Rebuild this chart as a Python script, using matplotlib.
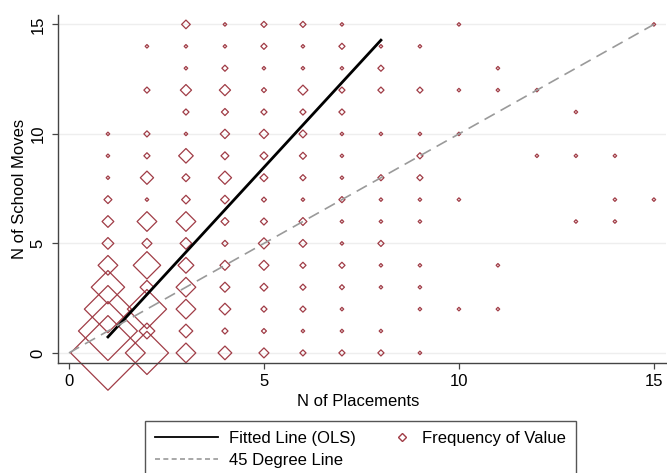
import matplotlib
matplotlib.use("Agg")
import matplotlib.pyplot as plt
from matplotlib.lines import Line2D
from matplotlib.legend_handler import HandlerBase

plt.rcParams["font.family"] = ["Liberation Sans", "DejaVu Sans"]

# (placements, school moves, frequency)
placements = [
    1, 1, 1, 1, 1, 1, 1, 1, 1, 1, 1,
    2, 2, 2, 2, 2, 2, 2, 2, 2, 2, 2, 2, 2,
    3, 3, 3, 3, 3, 3, 3, 3, 3, 3, 3, 3, 3, 3, 3, 3,
    4, 4, 4, 4, 4, 4, 4, 4, 4, 4, 4, 4, 4, 4, 4, 4,
    5, 5, 5, 5, 5, 5, 5, 5, 5, 5, 5, 5, 5, 5, 5, 5,
    6, 6, 6, 6, 6, 6, 6, 6, 6, 6, 6, 6, 6, 6, 6, 6,
    7, 7, 7, 7, 7, 7, 7, 7, 7, 7, 7, 7, 7, 7, 7, 7,
    8, 8, 8, 8, 8, 8, 8, 8, 8, 8, 8, 8,
    9, 9, 9, 9, 9, 9, 9, 9, 9, 9, 9,
    10, 10, 10, 10, 10,
    11, 11, 11, 11,
    12, 12,
    13, 13, 13,
    14, 14, 14,
    15, 15,
]
moves = [
    0, 1, 2, 3, 4, 5, 6, 7, 8, 9, 10,
    0, 1, 2, 3, 4, 5, 6, 7, 8, 9, 10, 12, 14,
    0, 1, 2, 3, 4, 5, 6, 7, 8, 9, 10, 11, 12, 13, 14, 15,
    0, 1, 2, 3, 4, 5, 6, 7, 8, 9, 10, 11, 12, 13, 14, 15,
    0, 1, 2, 3, 4, 5, 6, 7, 8, 9, 10, 11, 12, 13, 14, 15,
    0, 1, 2, 3, 4, 5, 6, 7, 8, 9, 10, 11, 12, 13, 14, 15,
    0, 1, 2, 3, 4, 5, 6, 7, 8, 9, 10, 11, 12, 13, 14, 15,
    0, 1, 3, 4, 5, 6, 7, 8, 10, 12, 13, 14,
    0, 2, 3, 4, 6, 7, 8, 9, 10, 12, 14,
    2, 7, 10, 12, 15,
    2, 4, 12, 13,
    9, 12,
    6, 9, 11,
    6, 7, 9,
    7, 15,
]
freq = [
    446, 278, 178, 89, 31, 11, 11, 5, 1, 1, 1,
    149, 20, 123, 15, 60, 8, 31, 1, 14, 3, 3, 3, 1,
    31, 15, 31, 31, 20, 11, 31, 6, 5, 17, 1, 3, 10, 1, 1, 6,
    15, 3, 11, 8, 8, 3, 5, 6, 14, 5, 7, 4, 10, 3, 1, 1,
    8, 2, 3, 5, 8, 10, 4, 2, 5, 5, 7, 3, 2, 1, 3, 3,
    3, 1, 3, 3, 3, 5, 5, 1, 3, 4, 5, 3, 8, 1, 1, 3,
    3, 1, 1, 2, 3, 1, 1, 3, 1, 1, 1, 3, 3, 1, 3, 1,
    3, 1, 1, 1, 3, 1, 1, 3, 1, 3, 3, 1,
    1, 1, 1, 1, 1, 1, 3, 3, 1, 3, 1,
    1, 1, 1, 1, 1,
    1, 1, 1, 1,
    1, 1,
    1, 1, 1,
    1, 1, 1,
    1, 1,
]

# fitted OLS line end points and 45 degree reference
fit_x = [1, 8]
fit_y = [0.73, 14.28]
diag = [0, 15]

ticks = [0, 5, 10, 15]
marker_color = "#a03c46"


class RightMarker(HandlerBase):
    # diamond sits just before the label, like the Stata legend
    def create_artists(self, legend, orig_handle, xdescent, ydescent,
                       width, height, fontsize, trans):
        m = Line2D([width - xdescent - 6], [(height - ydescent) / 2],
                   marker="D", linestyle="none", markersize=4.5,
                   markerfacecolor="none", markeredgecolor=marker_color,
                   markeredgewidth=1.0, transform=trans)
        return [m]


fig = plt.figure(figsize=(6.67, 4.73), dpi=100)
ax = fig.add_axes([0.087, 0.2326, 0.9115, 0.7357])

for t in ticks:
    ax.axhline(t, color="#eeeeee", lw=1.0, zorder=0)

ax.scatter(placements, moves, s=[3.24 * f for f in freq], marker="D",
           facecolors="none", edgecolors=marker_color, linewidths=0.9,
           clip_on=False, zorder=2)
ax.plot(fit_x, fit_y, color="black", lw=2.0, zorder=3)
ax.plot(diag, diag, color="#9a9a9a", lw=1.2, dashes=(7, 4), zorder=3)

ax.set_xlim(-0.28, 15.31)
ax.set_ylim(-0.46, 15.43)
ax.set_xticks(ticks)
ax.set_yticks(ticks)

for s in ["top", "right"]:
    ax.spines[s].set_visible(False)
for s in ["left", "bottom"]:
    ax.spines[s].set_color("#444444")
    ax.spines[s].set_linewidth(1.0)

ax.tick_params(axis="both", length=4, width=0.9, color="#444444", labelsize=12)
ax.tick_params(axis="x", pad=4)
ax.tick_params(axis="y", pad=5)
for lab in ax.get_yticklabels():
    lab.set_rotation(90)
    lab.set_va("center")

ax.set_xlabel("N of Placements", fontsize=12)
ax.set_ylabel("N of School Moves", fontsize=12)
ax.xaxis.set_label_coords(0.493, -0.088)
ax.yaxis.set_label_coords(-0.051, 0.5)

h_fit = Line2D([], [], color="black", lw=1.3)
h_diag = Line2D([], [], color="#9a9a9a", lw=1.2, dashes=(3, 2))
h_freq = Line2D([], [], marker="D", linestyle="none")
leg = fig.legend([h_fit, h_diag, h_freq],
                 ["Fitted Line (OLS)", "45 Degree Line", "Frequency of Value"],
                 handler_map={h_freq: RightMarker()},
                 loc="upper left", bbox_to_anchor=(0.2174, 0.110), ncol=2,
                 fontsize=12, handlelength=3.75, handletextpad=0.7,
                 columnspacing=-0.5, labelspacing=0.4, borderpad=0.6,
                 borderaxespad=0.0, frameon=True, fancybox=False,
                 edgecolor="#555555", framealpha=1.0)
leg.get_frame().set_linewidth(1.0)

fig.savefig("out.png", dpi=100)
